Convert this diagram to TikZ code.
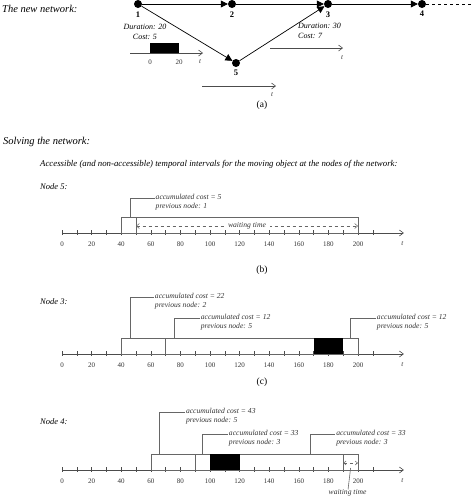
\documentclass[tikz,border=0pt]{standalone}
\usepackage{fontspec}
\setmainfont{Liberation Serif}
\usetikzlibrary{arrows.meta,positioning}
\begin{document}
\begin{tikzpicture}[x=1pt,y=-1pt,
  vertex/.style={circle,fill=black,inner sep=0pt,minimum size=8pt},
  vlab/.style={font=\fontsize{8.5}{9}\selectfont\bfseries,inner sep=0pt},
  edgelab/.style={font=\fontsize{8}{9.5}\selectfont\itshape,inner sep=0pt},
  head/.style={font=\fontsize{10.5}{12}\selectfont\itshape,anchor=west,inner sep=0pt},
  note/.style={font=\fontsize{7.6}{8.2}\selectfont\itshape,anchor=north west,align=left,inner xsep=1pt,inner ysep=0pt,text=black!80},
  ticklab/.style={font=\fontsize{7}{8}\selectfont,inner sep=0pt,text=black!80},
  figlab/.style={font=\fontsize{9.5}{10}\selectfont,inner sep=0pt},
  box/.style={draw=black!60,line width=0.6pt},
  tarrow/.style={draw=black!70,line width=0.6pt,-{Straight Barb[length=4pt,width=6pt]}},
  link/.style={line width=0.7pt,-{Triangle[length=7pt,width=7pt]}}]
\useasboundingbox (0,0) rectangle (474,496);

% the new network
\node[head] (t1) at (2,9) {The new network:};
\node[vertex,label={[vlab,label distance=3pt]below:1}] (n1) at (138,4) {};
\node[vertex,label={[vlab,label distance=3pt]below:2}] (n2) at (232,4) {};
\node[vertex,label={[vlab,label distance=3pt]below:3}] (n3) at (328,4) {};
\node[vertex,label={[vlab,label distance=3pt]below:4}] (n4) at (422,4) {};
\node[vertex,label={[vlab,label distance=3pt]below:5}] (n5) at (236,63) {};
\coordinate (nend) at (474,4);
\draw[link] (n1) -- (n2); \draw[link] (n2) -- (n3); \draw[link] (n3) -- (n4);
\draw[link] (n1) -- (n5); \draw[link] (n5) -- (n3);
\draw[dashed,line width=0.7pt] (n4) -- (nend);

\node[edgelab,align=center] (d15) at (145,32) {Duration: 20\\Cost: 5};
\draw[tarrow] (130,53) -- (203,53); \fill (150,43) rectangle (179,53);
\node[ticklab] (z15) at (150,62) {0}; \node[ticklab] (e15) at (179,62) {20}; \node[ticklab,font=\fontsize{7}{8}\selectfont\itshape] (t15) at (200,62) {t};

\node[edgelab,align=left,anchor=north west] (d53) at (298,23) {Duration: 30\\Cost: 7};
\draw[tarrow] (270,48) -- (343,48); \node[ticklab,font=\fontsize{7}{8}\selectfont\itshape] (t53) at (342,58) {t};

\draw[tarrow] (202,86) -- (276,86); \node[ticklab,font=\fontsize{7}{8}\selectfont\itshape] (t5) at (272,95) {t};
\node[figlab] (fa) at (262,105) {(a)};

% solving the network
\node[head] (t2) at (3,142) {Solving the network:};
\node[head,font=\fontsize{8.8}{10}\selectfont\itshape] (t3) at (40,164) {Accessible (and non-accessible) temporal intervals for the moving object at the nodes of the network:};
\node[head,font=\fontsize{8.5}{9}\selectfont\itshape] (l5) at (40,187) {Node 5:};
\node[head,font=\fontsize{8.5}{9}\selectfont\itshape] (l3) at (40,302) {Node 3:};
\node[head,font=\fontsize{8.5}{9}\selectfont\itshape] (l4) at (40,422) {Node 4:};
\node[figlab] (fb) at (262,270) {(b)};
\node[figlab] (fc) at (262,382) {(c)};

% time axes
\foreach \yy in {233,354,470} {
\begin{scope}[shift={(62,\yy)},x=1.48pt]
\draw[tarrow] (0,0) -- (231,0);
\foreach \t in {0,10,...,210} \draw[black!70,line width=0.5pt] (\t,-3) -- (\t,2);
\foreach \t in {0,20,...,200} \node[ticklab] at (\t,11) {\t};
\node[ticklab,font=\fontsize{7}{8}\selectfont\itshape] at (230,11) {t};
\end{scope}
}

% node 5
\begin{scope}[shift={(62,233)},x=1.48pt]
\draw[box] (40,0) rectangle (200,-16); \draw[box] (50,0) -- (50,-16);
\draw[dashed,black!60,line width=0.5pt,{Straight Barb[length=3pt,width=5pt]}-{Straight Barb[length=3pt,width=5pt]}] (50,-7) -- (200,-7);
\node[note,anchor=center,fill=white,inner xsep=4pt] (w5) at (125,-7) {waiting time};
\node[note] (c5) at (62.5,-38.5) {accumulated cost = 5\\previous node: 1};
\draw[box] (46,-16) |- ([yshift=-3.5pt]c5.north west);
\end{scope}

% node 3
\begin{scope}[shift={(62,354)},x=1.48pt]
\draw[box] (40,0) rectangle (200,-16); \draw[box] (70,0) -- (70,-16);
\fill (170,0) rectangle (190,-16);
\node[note] (c3a) at (62,-60.5) {accumulated cost = 22\\previous node: 2};
\node[note] (c3b) at (93,-39.5) {accumulated cost = 12\\previous node: 5};
\node[note] (c3c) at (212,-39.5) {accumulated cost = 12\\previous node: 5};
\draw[box] (46,-16) |- ([yshift=-3.5pt]c3a.north west);
\draw[box] (76,-16) |- ([yshift=-3.5pt]c3b.north west);
\draw[box] (195,-16) |- ([yshift=-3.5pt]c3c.north west);
\end{scope}

% node 4
\begin{scope}[shift={(62,470)},x=1.48pt]
\draw[box] (60,0) rectangle (200,-16); \draw[box] (90,0) -- (90,-16); \draw[box] (190,0) -- (190,-16);
\fill (100,0) rectangle (120,-16);
\draw[dashed,black!60,line width=0.5pt,{Straight Barb[length=2.5pt,width=4pt]}-{Straight Barb[length=2.5pt,width=4pt]}] (190,-7) -- (200,-7);
\node[note,anchor=center] (w4) at (193,23) {waiting time};
\draw[box] (195,-2) -- (w4);
\node[note] (c4a) at (83,-61.5) {accumulated cost = 43\\previous node: 5};
\node[note] (c4b) at (112,-39.5) {accumulated cost = 33\\previous node: 3};
\node[note] (c4c) at (184.5,-39.5) {accumulated cost = 33\\previous node: 3};
\draw[box] (65.5,-16) |- ([yshift=-3.5pt]c4a.north west);
\draw[box] (94.5,-16) |- ([yshift=-3.5pt]c4b.north west);
\draw[box] (168,-16) |- ([yshift=-3.5pt]c4c.north west);
\end{scope}
\end{tikzpicture}
\end{document}
